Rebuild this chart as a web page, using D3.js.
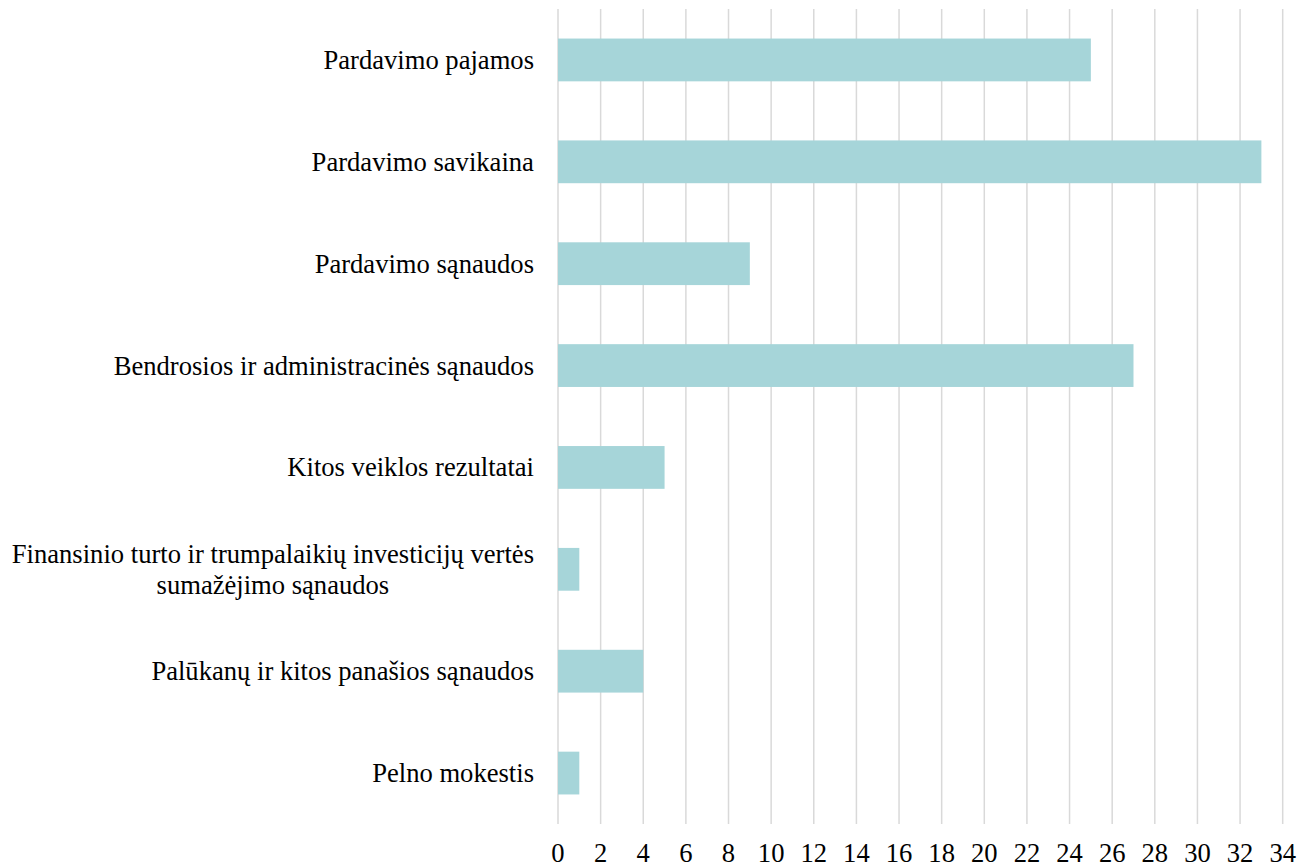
<!DOCTYPE html>
<html>
<head>
<meta charset="utf-8">
<script src="https://cdn.jsdelivr.net/npm/d3@7"></script>
<style>
  body { margin: 0; background: #fff; }
</style>
</head>
<body>
<script>
const width = 1299;
const height = 867;

const categories = [
  "Pardavimo pajamos",
  "Pardavimo savikaina",
  "Pardavimo sąnaudos",
  "Bendrosios ir administracinės sąnaudos",
  "Kitos veiklos rezultatai",
  "Finansinio turto ir trumpalaikių investicijų vertės|sumažėjimo sąnaudos",
  "Palūkanų ir kitos panašios sąnaudos",
  "Pelno mokestis"
];
const values = [25, 33, 9, 27, 5, 1, 4, 1];
const tickValues = d3.range(0, 35, 2);

const font = "'Liberation Serif', 'Times New Roman', Times, serif";
const fontSize = 26.6;
const margin = { top: 9, right: 16.3, bottom: 43, left: 558 };

const svg = d3.select("body").append("svg")
  .attr("width", width)
  .attr("height", height)
  .style("font-family", font);

const x = d3.scaleLinear()
  .domain([0, 34])
  .range([margin.left, width - margin.right]);

const y = d3.scaleBand()
  .domain(categories)
  .range([margin.top, height - margin.bottom])
  .paddingInner(0.58)
  .paddingOuter(0.29);

// gridlines
svg.append("g")
  .selectAll("line")
  .data(tickValues)
  .join("line")
  .attr("x1", d => x(d))
  .attr("x2", d => x(d))
  .attr("y1", margin.top)
  .attr("y2", height - margin.bottom)
  .attr("stroke", "#d9d9d9")
  .attr("stroke-width", 1.5);

// bars
svg.append("g")
  .selectAll("rect")
  .data(values)
  .join("rect")
  .attr("x", x(0))
  .attr("y", (d, i) => y(categories[i]))
  .attr("width", d => x(d) - x(0))
  .attr("height", y.bandwidth())
  .attr("fill", "#a6d5d9");

// x tick labels
svg.append("g")
  .selectAll("text")
  .data(tickValues)
  .join("text")
  .attr("x", d => x(d))
  .attr("y", 862)
  .attr("text-anchor", "middle")
  .attr("font-family", font)
  .attr("font-size", fontSize)
  .attr("fill", "#000")
  .text(d => d);

// category labels
const labels = svg.append("g")
  .selectAll("text")
  .data(categories)
  .join("text")
  .attr("text-anchor", "middle")
  .attr("font-family", font)
  .attr("font-size", fontSize)
  .attr("fill", "#000")
  .attr("transform", d => `translate(0,${y(d) + y.bandwidth() / 2})`);

labels.each(function(d) {
  const lines = d.split("|");
  const t = d3.select(this);
  const lh = 31;
  lines.forEach((ln, i) => {
    t.append("tspan")
      .attr("x", 0)
      .attr("y", (i - (lines.length - 1) / 2) * lh + 9)
      .text(ln);
  });
});

// right align the block, center multi-line text within block
labels.each(function() {
  const t = d3.select(this);
  const w = this.getBBox().width;
  const right = 534;
  t.selectAll("tspan").attr("x", right - w / 2);
});
</script>
</body>
</html>
